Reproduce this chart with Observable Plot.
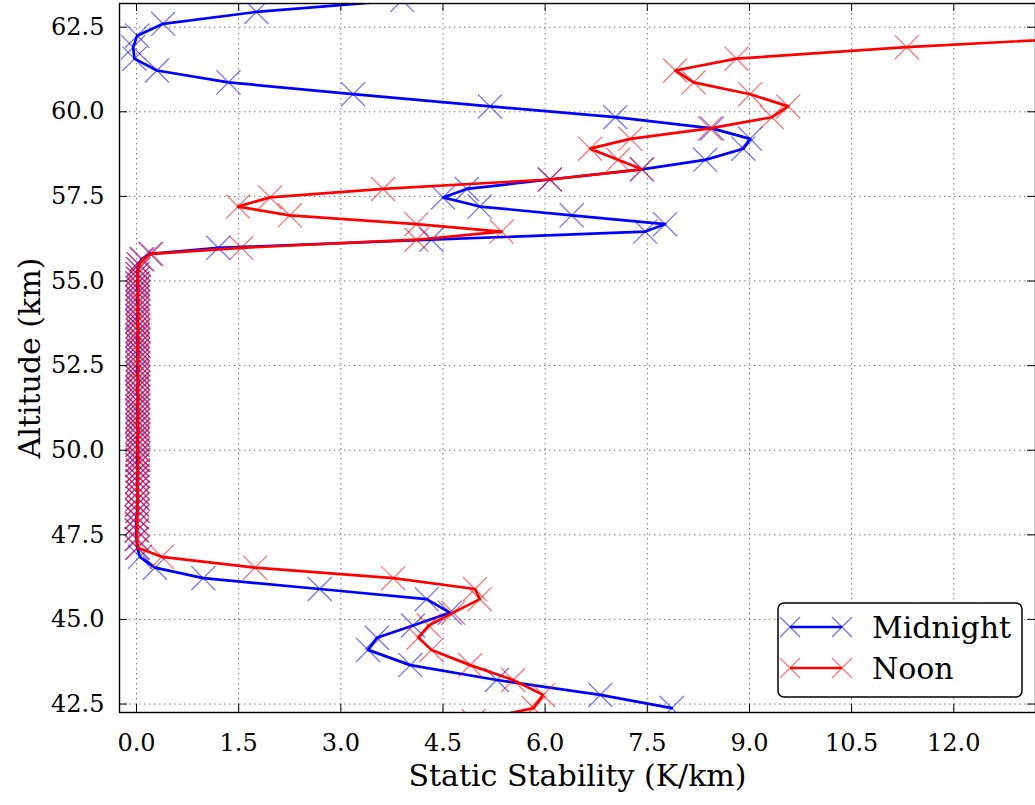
<!DOCTYPE html>
<html><head><meta charset="utf-8">
<script src="https://cdn.jsdelivr.net/npm/d3@7"></script>
<script src="https://cdn.jsdelivr.net/npm/@observablehq/plot@0.6"></script>
<style>
body{margin:0;background:#fff;overflow:hidden}
#wrap{position:relative;width:1035px;height:805px;overflow:hidden}
</style></head><body><div id="wrap"></div>
<script>
// Altitude levels (km), top to bottom
const altitude = [
  63.30, 62.95, 62.60, 62.25, 61.91, 61.57, 61.22, 60.87, 60.52, 60.16,
  59.84, 59.51, 59.20, 58.91, 58.58, 58.30, 58.00, 57.72, 57.47, 57.20,
  56.94, 56.68, 56.46, 56.22, 55.98, 55.80,
  55.64, 55.49, 55.35, 55.21, 55.07, 54.93, 54.79, 54.65, 54.51, 54.37,
  54.23, 54.09, 53.95, 53.81, 53.67, 53.53, 53.39, 53.25, 53.11, 52.97,
  52.83, 52.69, 52.55, 52.41, 52.27, 52.13, 51.99, 51.85, 51.71, 51.57,
  51.43, 51.29, 51.15, 51.01, 50.87, 50.73, 50.59, 50.45, 50.31, 50.16,
  50.01, 49.86, 49.71, 49.56, 49.40, 49.24, 49.08, 48.91, 48.74, 48.57,
  48.39, 48.21, 48.02, 47.83, 47.63, 47.38, 47.12,
  46.85, 46.53, 46.22, 45.90, 45.60, 45.20, 44.82, 44.46, 44.10, 43.65,
  43.21, 42.77, 42.38, 42.00
];
// Static stability (K/km), Midnight
const midnight = [
  3.90, 1.76, 0.39, 0.01, -0.05, -0.03, 0.30, 1.35, 3.18, 5.19,
  7.03, 8.45, 9.01, 8.91, 8.35, 7.42, 6.07, 4.85, 4.50, 5.04,
  6.39, 7.76, 7.47, 4.33, 1.20, 0.20,
  0.07, 0.03, 0.02, 0.01, 0.02, 0.01, 0.01, 0.02, 0.01, 0.01,
  0.02, 0.02, 0.01, 0.01, 0.02, 0.02, 0.01, 0.01, 0.02, 0.02,
  0.01, 0.02, 0.02, 0.01, 0.01, 0.02, 0.02, 0.01, 0.01, 0.02,
  0.02, 0.01, 0.01, 0.02, 0.01, 0.01, 0.02, 0.02, 0.01, 0.01,
  0.02, 0.01, 0.01, 0.01, 0.02, 0.01, 0.01, 0.01, 0.01, 0.02,
  0.01, 0.01, 0.00, 0.00, 0.00, 0.00, 0.01,
  0.05, 0.27, 0.98, 2.69, 4.26, 4.60, 4.06, 3.53, 3.40, 4.02,
  5.29, 6.81, 7.86, null
];
// Static stability (K/km), Noon
const noon = [
  null, null, null, 14.50, 11.31, 8.81, 7.91, 8.18, 9.01, 9.57,
  9.33, 8.42, 7.25, 6.66, 7.07, 7.42, 6.07, 3.62, 1.96, 1.49,
  2.25, 4.11, 5.36, 4.11, 1.54, 0.22,
  0.09, 0.04, 0.03, 0.02, 0.02, 0.02, 0.03, 0.02, 0.02, 0.03,
  0.02, 0.02, 0.03, 0.02, 0.02, 0.03, 0.02, 0.03, 0.02, 0.02,
  0.03, 0.02, 0.02, 0.03, 0.02, 0.02, 0.03, 0.02, 0.02, 0.03,
  0.02, 0.02, 0.03, 0.02, 0.02, 0.02, 0.03, 0.02, 0.02, 0.02,
  0.02, 0.02, 0.03, 0.02, 0.02, 0.02, 0.02, 0.01, 0.02, 0.02,
  0.01, 0.02, 0.01, 0.01, 0.01, 0.01, 0.02,
  0.37, 1.74, 3.77, 4.97, 5.04, 4.65, 4.29, 4.14, 4.33, 4.90,
  5.53, 5.97, 5.83, 4.95
];
const seriesNames = ["Midnight", "Noon"];
const seriesColors = ["#0000ff", "#ff0000"];
const xTicks = [0, 1.5, 3, 4.5, 6, 7.5, 9, 10.5, 12];
const yTicks = [42.5, 45, 47.5, 50, 52.5, 55, 57.5, 60, 62.5];
const xLabel = "Static Stability (K/km)";
const yLabel = "Altitude (km)";
const xDomain = [-0.25, 13.2];
const yDomain = [42.25, 63.2];

const W = 1035, H = 805;
const mL = 119, mR = 0, mT = 3, mB = 93;
const fw = W - mL - mR, fh = H - mT - mB;
const font = "DejaVu Serif, serif";

function rows(vals, name) {
  return altitude.map((a, i) => ({alt: a, v: vals[i], series: name})).filter(d => d.v != null);
}
const blue = rows(midnight, seriesNames[0]);
const red = rows(noon, seriesNames[1]);

const seriesMarks = (data, color) => [
  Plot.line(data, {x: "v", y: "alt", stroke: color, strokeWidth: 2.7, clip: true}),
  Plot.dot(data, {x: "v", y: "alt", symbol: "times", r: 11, stroke: color, strokeWidth: 1.3, strokeOpacity: 0.55, clip: true})
];

const chart = Plot.plot({
  width: W, height: H,
  marginLeft: mL, marginRight: mR, marginTop: mT, marginBottom: mB,
  style: {fontFamily: font, background: "white", color: "black", overflow: "visible"},
  x: {domain: xDomain, axis: null},
  y: {domain: yDomain, axis: null},
  marks: [
    Plot.gridX(xTicks, {stroke: "#777", strokeOpacity: 1, strokeWidth: 1, strokeDasharray: "1.5,3.5"}),
    Plot.gridY(yTicks, {stroke: "#777", strokeOpacity: 1, strokeWidth: 1, strokeDasharray: "1.5,3.5"}),
    ...seriesMarks(blue, seriesColors[0]),
    ...seriesMarks(red, seriesColors[1]),
    Plot.tickX(xTicks, {x: d => d, insetTop: fh - 8, stroke: "black", strokeWidth: 1}),
    Plot.tickX(xTicks, {x: d => d, insetBottom: fh - 8, stroke: "black", strokeWidth: 1}),
    Plot.tickY(yTicks, {y: d => d, insetRight: fw - 8, stroke: "black", strokeWidth: 1}),
    Plot.tickY(yTicks, {y: d => d, insetLeft: fw - 8, stroke: "black", strokeWidth: 1}),
    // tick labels
    Plot.text(xTicks, {x: d => d, y: () => yDomain[0], text: d => d.toFixed(1), dy: 31,
      textAnchor: "middle", lineAnchor: "middle", fontSize: 24, fill: "black"}),
    Plot.text(yTicks, {y: d => d, x: () => xDomain[0], text: d => d.toFixed(1), dx: -15,
      textAnchor: "end", lineAnchor: "middle", fontSize: 24, fill: "black"}),
    // axis labels
    Plot.text([xLabel], {text: d => d, frameAnchor: "bottom", dy: 64,
      textAnchor: "middle", lineAnchor: "middle", fontSize: 30, fill: "black"}),
    Plot.text([yLabel], {text: d => d, frameAnchor: "left", dx: -89, rotate: -90,
      textAnchor: "middle", lineAnchor: "middle", fontSize: 30, fill: "black"}),
    Plot.frame({stroke: "black", strokeWidth: 1.4})
  ]
});
const wrap = document.getElementById("wrap");
wrap.appendChild(chart);

// Legend
const lg = d3.create("svg").attr("width", 248).attr("height", 98)
  .style("position", "absolute").style("left", "777px").style("top", "602px");
lg.append("rect").attr("x", 1).attr("y", 1).attr("width", 244).attr("height", 94)
  .attr("rx", 6).attr("fill", "white").attr("stroke", "black").attr("stroke-width", 1.5);
seriesNames.forEach((name, i) => {
  const cy = 25 + i * 41;
  const g = lg.append("g");
  g.append("line").attr("x1", 13).attr("x2", 65).attr("y1", cy).attr("y2", cy)
    .attr("stroke", seriesColors[i]).attr("stroke-width", 2.7);
  [13, 65].forEach(cx => {
    g.append("path").attr("d", `M${cx-10},${cy-10}L${cx+10},${cy+10}M${cx-10},${cy+10}L${cx+10},${cy-10}`)
      .attr("stroke", seriesColors[i]).attr("stroke-width", 1.3).attr("stroke-opacity", 0.55).attr("fill", "none");
  });
  g.append("text").attr("x", 95).attr("y", cy).attr("dominant-baseline", "central")
    .attr("font-family", font).attr("font-size", 30).attr("fill", "black").text(name);
});
wrap.appendChild(lg.node());
</script></body></html>
